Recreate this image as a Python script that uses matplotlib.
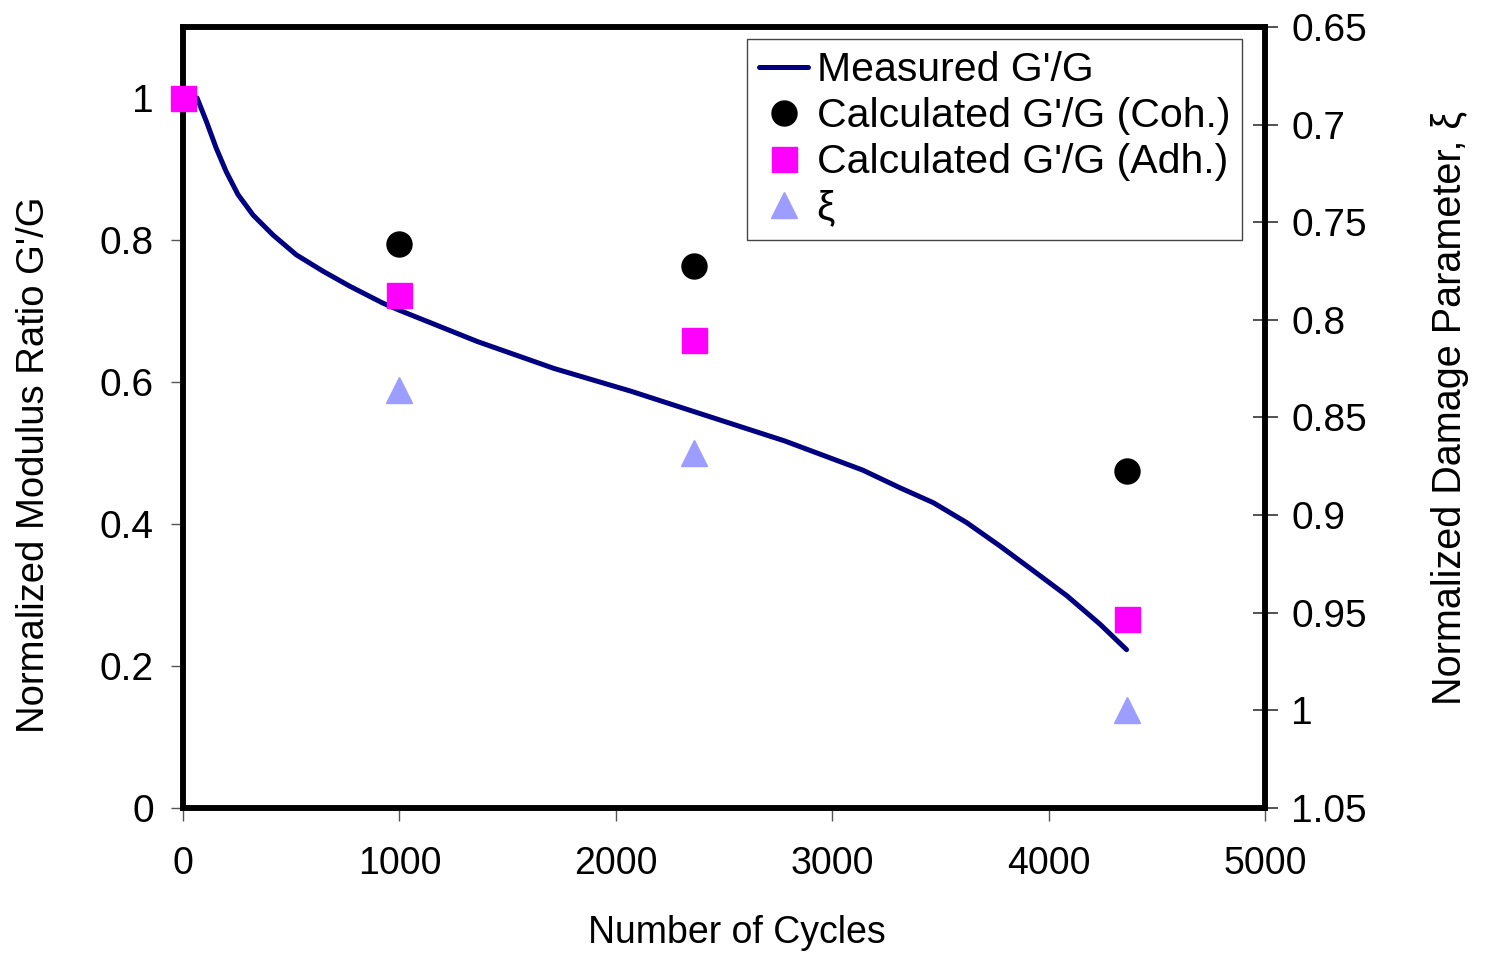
import matplotlib.pyplot as plt

# --- data ---
cycles = [65, 108, 154, 200, 254, 324, 416, 524, 647, 770, 924, 1000,
          1360, 1715, 2070, 2425, 2780, 3140, 3313, 3467, 3621, 3775,
          3930, 4084, 4237, 4360]
measured = [1.0, 0.967, 0.929, 0.896, 0.864, 0.835, 0.807, 0.779, 0.756,
            0.735, 0.711, 0.701, 0.657, 0.619, 0.587, 0.552, 0.517, 0.476,
            0.451, 0.430, 0.402, 0.369, 0.334, 0.299, 0.259, 0.223]

coh_x = [1000, 2360, 4360]
coh_y = [0.794, 0.763, 0.475]

adh_x = [0, 1000, 2360, 4360]
adh_y = [1.0, 0.722, 0.659, 0.266]

xi_x = [1000, 2360, 4360]
xi_y = [0.836, 0.868, 1.0]

plt.rcParams['font.family'] = ['Liberation Sans', 'DejaVu Sans']

fig = plt.figure(figsize=(14.89, 9.56), dpi=100)
ax = fig.add_axes([0.1229, 0.1548, 0.7267, 0.817])
ax2 = ax.twinx()

l1, = ax.plot(cycles, measured, color='#000080', lw=3.6, solid_capstyle='round',
              solid_joinstyle='round', label="Measured G'/G", zorder=3)
l2, = ax.plot(coh_x, coh_y, 'o', color='black', ms=18, ls='none',
              label="Calculated G'/G (Coh.)", zorder=4)
l3, = ax.plot(adh_x, adh_y, 's', color='#FF00FF', ms=18, ls='none',
              label="Calculated G'/G (Adh.)", zorder=5, clip_on=False)
l4, = ax2.plot(xi_x, xi_y, '^', color='#9D9DFF', ms=19, ls='none',
               label='ξ', zorder=4)

ax.set_xlim(0, 5000)
ax.set_ylim(0, 1.1)
ax.set_yticks([0, 0.2, 0.4, 0.6, 0.8, 1])
ax.set_yticklabels(['0', '0.2', '0.4', '0.6', '0.8', '1'])
ax.set_xticks([0, 1000, 2000, 3000, 4000, 5000])

ax2.set_ylim(1.05, 0.65)
r_ticks = [0.65, 0.7, 0.75, 0.8, 0.85, 0.9, 0.95, 1.0, 1.05]
ax2.set_yticks(r_ticks)
ax2.set_yticklabels(['0.65', '0.7', '0.75', '0.8', '0.85', '0.9', '0.95', '1', '1.05'])

for a in (ax, ax2):
    for s in a.spines.values():
        s.set_linewidth(4)
        s.set_color('black')
ax2.set_zorder(1)
ax.set_zorder(2)
ax.patch.set_visible(False)

ax.tick_params(axis='y', direction='out', length=9, width=1, color='#555555',
               labelsize=28, pad=12)
ax.tick_params(axis='x', direction='out', length=9, width=1, color='#555555',
               labelsize=27, pad=18)
ax2.tick_params(axis='y', direction='inout', length=18, width=1.2, color='#333333',
                labelsize=28, pad=10)

ax.set_xlabel('Number of Cycles', fontsize=27, labelpad=24)
ax.xaxis.label.set_x(0.512)
ax.set_ylabel("Normalized Modulus Ratio G'/G", fontsize=27.5, labelpad=34)
ax.yaxis.label.set_y(0.439)
ax2.set_ylabel('Normalized Damage Parameter, ξ', fontsize=28.5, labelpad=46)
ax2.yaxis.label.set_y(0.512)

leg = ax.legend(handles=[l1, l2, l3, l4], loc='upper right',
                bbox_to_anchor=(0.979, 0.985), fontsize=29.5, frameon=True,
                fancybox=False, edgecolor='#444444', framealpha=1,
                handlelength=1.2, handletextpad=0.2, borderpad=0.3,
                labelspacing=0.2, borderaxespad=0)
leg.get_frame().set_linewidth(1)

fig.savefig('out.png', dpi=100)
